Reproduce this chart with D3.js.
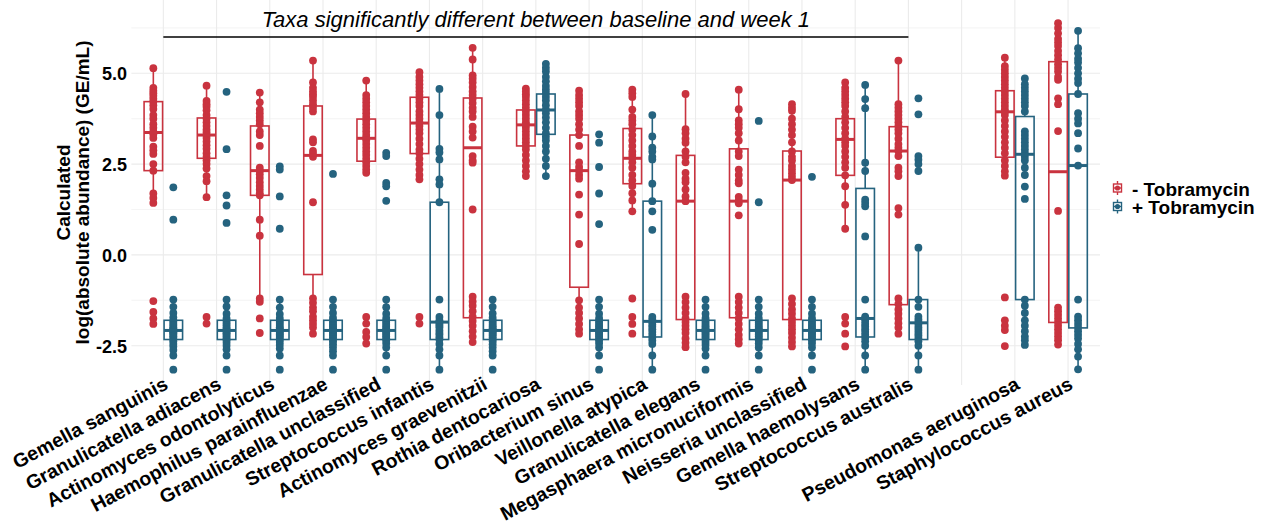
<!DOCTYPE html>
<html>
<head>
<meta charset="utf-8">
<script src="https://cdn.jsdelivr.net/npm/d3@7"></script>
<style>
  html, body { margin: 0; padding: 0; background: #ffffff; }
  svg { display: block; font-family: "Liberation Sans", Arial, sans-serif; }
</style>
</head>
<body>
<svg id="chart" width="1275" height="524"></svg>
<script>
// ---------------- data ----------------
const taxa = [
  "Gemella sanguinis", "Granulicatella adiacens", "Actinomyces odontolyticus",
  "Haemophilus parainfluenzae", "Granulicatella unclassified", "Streptococcus infantis",
  "Actinomyces graevenitzii", "Rothia dentocariosa", "Oribacterium sinus",
  "Veillonella atypica", "Granulicatella elegans", "Megasphaera micronuciformis",
  "Neisseria unclassified", "Gemella haemolysans", "Streptococcus australis",
  "Pseudomonas aeruginosa", "Staphylococcus aureus"
];
// axis slots: a blank slot separates the two groups of taxa
const axisSlots = [
  "Gemella sanguinis", "Granulicatella adiacens", "Actinomyces odontolyticus",
  "Haemophilus parainfluenzae", "Granulicatella unclassified", "Streptococcus infantis",
  "Actinomyces graevenitzii", "Rothia dentocariosa", "Oribacterium sinus",
  "Veillonella atypica", "Granulicatella elegans", "Megasphaera micronuciformis",
  "Neisseria unclassified", "Gemella haemolysans", "Streptococcus australis",
  "", "Pseudomonas aeruginosa", "Staphylococcus aureus"
];
const groups = ["- Tobramycin", "+ Tobramycin"];
const yTicks = [-2.5, 0, 2.5, 5];
const yMinorTicks = [-1.25, 1.25, 3.75, 6.25];
const bracketLabel = "Taxa significantly different between baseline and week 1";
const bracketFrom = "Gemella sanguinis";
const bracketTo = "Streptococcus australis";
const bracketLevel = 6;

// box stats per taxon: [lower whisker, Q1, median, Q3, upper whisker]
const boxMinus = [
  [1.43, 2.32, 3.37, 4.22, 5.14],
  [1.59, 2.66, 3.30, 3.77, 4.66],
  [-1.29, 1.64, 2.32, 3.55, 4.47],
  [-2.17, -0.54, 2.74, 4.10, 5.35],
  [2.26, 2.58, 3.21, 3.74, 4.80],
  [2.08, 2.79, 3.63, 4.34, 5.03],
  [-2.40, -1.73, 2.95, 4.32, 5.70],
  [2.17, 3.00, 3.58, 3.99, 4.58],
  [-2.17, -0.89, 2.32, 3.30, 4.52],
  [1.20, 1.96, 2.66, 3.48, 4.55],
  [-2.54, -1.78, 1.48, 2.74, 4.43],
  [-2.44, -1.73, 1.48, 2.92, 4.55],
  [-2.52, -1.78, 2.06, 2.86, 4.15],
  [0.72, 2.19, 3.18, 3.75, 4.75],
  [-2.17, -1.37, 2.86, 3.53, 5.35],
  [2.18, 2.69, 3.94, 4.52, 5.43],
  [-2.47, -1.86, 2.29, 5.32, 6.38]
];
const boxPlus = [
  [-2.77, -2.33, -2.08, -1.80, -1.23],
  [-2.77, -2.33, -2.08, -1.80, -1.23],
  [-2.77, -2.33, -2.08, -1.80, -1.23],
  [-2.77, -2.33, -2.08, -1.80, -1.23],
  [-2.77, -2.33, -2.08, -1.80, -1.23],
  [-3.16, -2.33, -1.85, 1.45, 4.57],
  [-2.77, -2.33, -2.08, -1.80, -1.23],
  [2.17, 3.32, 3.99, 4.43, 5.26],
  [-2.77, -2.33, -2.08, -1.80, -1.23],
  [-3.16, -2.26, -1.83, 1.48, 3.85],
  [-2.77, -2.33, -2.08, -1.80, -1.23],
  [-2.77, -2.33, -2.08, -1.80, -1.23],
  [-2.77, -2.33, -2.08, -1.80, -1.23],
  [-3.16, -2.26, -1.75, 1.83, 4.68],
  [-3.16, -2.33, -1.87, -1.23, 0.20],
  [-2.48, -1.23, 2.77, 3.81, 4.86],
  [-3.15, -2.01, 2.46, 4.43, 6.17]
];

// individual samples, log(absolute abundance)
const pointsMinus = [
  [5.14, 4.6, 4.52, 4.45, 4.38, 4.3, 4.22, 4.12, 4.02, 3.85, 3.75, 3.6, 3.5, 3.4, 3.32, 3.22, 2.98, 2.88, 2.78, 2.5, 2.32, 1.69, 1.57, 1.43, -1.27, -1.57, -1.75, -1.9],
  [4.66, 4.24, 4.15, 4.08, 3.98, 3.85, 3.75, 3.65, 3.55, 3.45, 3.38, 3.3, 3.22, 3.12, 3.02, 2.92, 2.8, 2.7, 2.6, 2.5, 2.38, 2.17, 2.03, 1.59, -1.71, -1.89],
  [4.47, 4.2, 4.0, 3.9, 3.8, 3.7, 3.6, 3.4, 3.3, 3.0, 2.4, 2.32, 2.22, 2.12, 2.0, 1.9, 1.8, 1.7, 1.64, 0.97, 0.53, -1.2, -1.29, -1.75, -2.15],
  [5.35, 4.75, 4.6, 4.5, 4.42, 4.35, 4.25, 4.15, 4.05, 3.95, 3.18, 3.1, 2.86, 2.78, 2.7, 1.45, -1.2, -1.32, -1.45, -1.55, -1.7, -1.8, -1.9, -2.0, -2.17],
  [4.8, 4.4, 4.3, 4.2, 4.1, 4.0, 3.9, 3.8, 3.7, 3.6, 3.5, 3.4, 3.3, 3.22, 3.15, 3.05, 2.95, 2.85, 2.75, 2.65, 2.55, 2.45, 2.35, 2.26, -1.71, -1.89, -2.12, -2.26, -2.44],
  [5.03, 4.9, 4.8, 4.7, 4.6, 4.5, 4.4, 4.3, 4.2, 4.1, 3.95, 3.85, 3.75, 3.65, 3.55, 3.45, 3.35, 3.2, 3.05, 2.9, 2.8, 2.65, 2.5, 2.35, 2.2, 2.08, -1.71, -1.89],
  [5.7, 5.38, 4.94, 4.85, 4.75, 4.62, 4.5, 4.4, 4.3, 4.18, 4.05, 3.95, 3.8, 3.53, 3.4, 3.23, 2.72, 2.6, 2.54, 1.25, -1.15, -1.28, -1.4, -1.55, -1.7, -1.82, -1.95, -2.1, -2.25, -2.4],
  [4.58, 4.5, 4.42, 4.35, 4.25, 4.15, 4.05, 3.95, 3.85, 3.75, 3.65, 3.58, 3.5, 3.4, 3.3, 3.2, 3.1, 3.0, 2.9, 2.75, 2.6, 2.45, 2.3, 2.17],
  [4.52, 4.4, 4.3, 4.2, 4.1, 3.95, 3.85, 3.75, 3.6, 3.45, 3.3, 3.0, 2.55, 2.42, 2.32, 2.2, 2.1, 1.66, 1.11, 0.3, -1.25, -1.45, -1.6, -1.75, -1.9, -2.05, -2.17],
  [4.55, 4.45, 4.35, 4.0, 3.8, 3.7, 3.6, 3.45, 3.3, 3.15, 3.0, 2.85, 2.75, 2.66, 2.55, 2.4, 2.2, 2.05, 1.9, 1.7, 1.5, 1.2, -1.2, -1.71, -1.9, -2.17],
  [4.43, 3.46, 3.35, 3.2, 3.09, 2.85, 2.7, 2.55, 2.26, 2.1, 2.0, 1.8, 1.61, 1.48, -1.15, -1.3, -1.45, -1.6, -1.75, -1.85, -1.95, -2.05, -2.15, -2.3, -2.42, -2.54],
  [4.55, 4.01, 3.7, 3.6, 3.5, 3.35, 3.15, 2.85, 2.72, 2.35, 2.2, 2.05, 1.97, 1.6, 1.5, 1.42, 1.09, -1.15, -1.3, -1.45, -1.6, -1.75, -1.9, -2.05, -2.2, -2.32, -2.44],
  [4.15, 4.05, 3.97, 3.75, 3.6, 3.45, 3.3, 3.1, 2.85, 2.7, 2.6, 2.45, 2.35, 2.25, 2.15, 2.06, -1.2, -1.35, -1.5, -1.62, -1.75, -1.85, -1.95, -2.05, -2.15, -2.28, -2.4, -2.52],
  [4.75, 4.6, 4.5, 4.4, 4.3, 4.2, 4.1, 3.95, 3.8, 3.65, 3.5, 3.35, 3.2, 3.1, 3.0, 2.85, 2.7, 2.55, 2.4, 2.19, 1.89, 1.38, 0.72, -1.71, -1.89, -2.17, -2.52],
  [5.35, 4.15, 4.05, 3.95, 3.85, 3.75, 3.65, 3.55, 3.45, 3.35, 3.2, 3.05, 2.95, 2.86, 2.72, 2.4, 2.3, 2.17, 1.29, 1.11, -1.2, -1.35, -1.5, -1.62, -1.75, -1.88, -2.0, -2.17],
  [5.43, 5.2, 5.1, 5.0, 4.9, 4.8, 4.7, 4.6, 4.5, 4.4, 4.3, 4.2, 4.1, 4.0, 3.94, 3.85, 3.7, 3.55, 3.4, 3.25, 3.1, 2.95, 2.8, 2.6, 2.45, 2.3, 2.18, -1.17, -1.8, -1.95, -2.07, -2.51],
  [6.38, 6.25, 6.1, 5.95, 5.85, 5.75, 5.62, 5.5, 5.38, 5.25, 5.15, 5.05, 4.9, 4.82, 4.31, 4.15, 3.41, 1.21, -1.45, -1.55, -1.65, -1.75, -1.85, -1.95, -2.05, -2.15, -2.25, -2.35, -2.47]
];
const pointsPlus = [
  [1.86, 0.97, -1.23, -1.43, -1.6, -1.72, -1.8, -1.85, -1.9, -1.95, -2.0, -2.03, -2.06, -2.08, -2.1, -2.13, -2.16, -2.2, -2.24, -2.28, -2.33, -2.38, -2.45, -2.52, -2.62, -2.77, -3.16],
  [4.49, 2.91, 1.64, 1.36, 0.88, -1.23, -1.42, -1.62, -1.75, -1.82, -1.88, -1.94, -2.0, -2.04, -2.08, -2.12, -2.16, -2.2, -2.25, -2.3, -2.35, -2.42, -2.5, -2.6, -2.77, -3.16],
  [2.44, 2.35, 1.61, 0.72, -1.23, -1.45, -1.63, -1.74, -1.81, -1.87, -1.93, -1.99, -2.03, -2.07, -2.11, -2.15, -2.19, -2.23, -2.28, -2.33, -2.4, -2.48, -2.58, -2.77, -3.16],
  [2.23, -1.23, -1.43, -1.6, -1.73, -1.8, -1.86, -1.92, -1.97, -2.02, -2.06, -2.1, -2.14, -2.18, -2.22, -2.27, -2.32, -2.38, -2.46, -2.55, -2.65, -2.77, -3.16],
  [2.81, 2.72, 1.98, 1.89, 1.49, -1.23, -1.44, -1.62, -1.74, -1.81, -1.87, -1.93, -1.98, -2.03, -2.07, -2.11, -2.15, -2.2, -2.25, -2.3, -2.36, -2.44, -2.55, -2.77, -3.16],
  [4.57, 3.85, 2.92, 2.82, 2.63, 2.08, 1.94, 1.45, -1.23, -1.71, -1.8, -1.85, -1.9, -1.95, -2.0, -2.08, -2.15, -2.2, -2.27, -2.33, -2.45, -2.6, -2.77, -3.16],
  [-1.23, -1.43, -1.61, -1.73, -1.8, -1.86, -1.92, -1.97, -2.02, -2.06, -2.1, -2.14, -2.18, -2.22, -2.27, -2.32, -2.38, -2.46, -2.55, -2.65, -2.77, -3.16],
  [5.26, 5.15, 5.05, 4.9, 4.78, 4.65, 4.55, 4.45, 4.35, 4.25, 4.12, 4.0, 3.9, 3.78, 3.65, 3.5, 3.35, 3.25, 3.15, 3.0, 2.85, 2.65, 2.45, 2.17],
  [3.32, 3.09, 2.42, 1.69, 0.85, -1.23, -1.43, -1.62, -1.74, -1.81, -1.87, -1.93, -1.98, -2.03, -2.07, -2.11, -2.15, -2.2, -2.25, -2.3, -2.36, -2.44, -2.55, -2.77, -3.16],
  [3.85, 3.26, 2.95, 2.85, 2.7, 2.63, 1.96, 1.48, 1.2, 0.69, -1.71, -1.78, -1.85, -1.92, -1.98, -2.05, -2.12, -2.2, -2.28, -2.36, -2.45, -2.77, -3.16],
  [-1.23, -1.43, -1.62, -1.74, -1.8, -1.86, -1.92, -1.97, -2.02, -2.06, -2.1, -2.14, -2.18, -2.23, -2.28, -2.33, -2.4, -2.48, -2.58, -2.77, -3.16],
  [3.69, 1.45, -1.23, -1.43, -1.62, -1.74, -1.81, -1.87, -1.93, -1.98, -2.03, -2.07, -2.11, -2.15, -2.2, -2.25, -2.3, -2.36, -2.44, -2.55, -2.77, -3.16],
  [2.15, -1.23, -1.43, -1.62, -1.74, -1.81, -1.87, -1.93, -1.98, -2.03, -2.07, -2.11, -2.15, -2.2, -2.25, -2.3, -2.36, -2.44, -2.55, -2.77, -3.16],
  [4.68, 4.29, 4.04, 2.54, 2.31, 1.52, 1.43, 1.34, 0.51, -1.23, -1.7, -1.75, -1.82, -1.9, -1.97, -2.05, -2.12, -2.2, -2.28, -2.38, -2.5, -2.77, -3.16],
  [4.31, 3.87, 2.72, 2.62, 2.5, 2.31, 0.2, -1.23, -1.43, -1.7, -1.78, -1.85, -1.92, -2.0, -2.07, -2.15, -2.22, -2.3, -2.38, -2.5, -2.77, -3.16],
  [4.86, 4.7, 4.6, 4.5, 4.4, 4.3, 4.2, 4.1, 3.95, 3.4, 3.3, 3.2, 3.1, 3.0, 2.9, 2.8, 2.7, 2.6, 2.4, 2.2, 1.88, 1.54, -1.23, -1.4, -1.6, -1.8, -1.95, -2.1, -2.25, -2.35, -2.48],
  [6.17, 5.69, 5.55, 5.4, 5.3, 5.15, 5.0, 4.85, 4.73, 4.43, 3.9, 3.75, 3.62, 3.35, 2.93, 2.46, -1.23, -1.7, -1.8, -1.9, -2.0, -2.1, -2.2, -2.3, -2.45, -2.6, -2.8, -3.15]
];

const colors = ["#C9333F", "#25637F"];

// ---------------- layout ----------------
const svg = d3.select("#chart");
const panel = { left: 131.4, right: 1100, top: 0, bottom: 385 };
const font = '"Liberation Sans", Arial, sans-serif';

const x = d3.scalePoint().domain(axisSlots).range([panel.left, panel.right]).padding(0.6);
const y = d3.scaleLinear().domain([-3.582, 7.018]).range([panel.bottom, panel.top]);
const dodge = d3.scalePoint().domain(groups).range([-10, 10]);
const boxW = 18.5;

// grid
const grid = svg.append("g");
grid.selectAll("line.minor").data(yMinorTicks).join("line")
  .attr("x1", panel.left).attr("x2", panel.right)
  .attr("y1", d => y(d)).attr("y2", d => y(d))
  .attr("stroke", "#EFEFEF").attr("stroke-width", 0.7);
grid.selectAll("line.majY").data(yTicks).join("line")
  .attr("x1", panel.left).attr("x2", panel.right)
  .attr("y1", d => y(d)).attr("y2", d => y(d))
  .attr("stroke", "#EBEBEB").attr("stroke-width", 1.1);
grid.selectAll("line.majX").data(axisSlots).join("line")
  .attr("x1", d => x(d)).attr("x2", d => x(d))
  .attr("y1", panel.top).attr("y2", panel.bottom)
  .attr("stroke", "#EBEBEB").attr("stroke-width", 1.1);

// y axis labels (ASCII hyphen for negatives, as in the original)
const fmt = d3.formatLocale({ decimal: ".", thousands: ",", grouping: [3], currency: ["", ""], minus: "-" }).format(".1f");
const yAxis = d3.axisLeft(y).tickValues(yTicks).tickFormat(fmt).tickSize(0).tickPadding(0);
const yg = svg.append("g").attr("transform", "translate(127,0)").call(yAxis);
yg.select(".domain").remove();
yg.selectAll("text").attr("font-family", font).attr("font-size", 18).attr("font-weight", "bold")
  .attr("fill", "#000").attr("dy", "0.35em");

// y title
const yt = svg.append("text").attr("transform", `translate(70,${(panel.top + panel.bottom) / 2}) rotate(-90)`)
  .attr("text-anchor", "middle").attr("font-family", font).attr("font-size", 19).attr("font-weight", "bold");
yt.append("tspan").attr("x", 0).attr("y", 0).text("Calculated");
yt.append("tspan").attr("x", 0).attr("y", 19).text("log(absolute abundance) (GE/mL)");

// x axis labels
const xAxis = d3.axisBottom(x).tickSize(0).tickPadding(0).tickFormat(d => d);
const xg = svg.append("g").attr("transform", "translate(0,376)").call(xAxis);
xg.select(".domain").remove();
xg.selectAll("text").attr("font-family", font).attr("font-size", 19.5).attr("font-weight", "bold")
  .attr("fill", "#000").attr("text-anchor", "end").attr("dy", "0.71em").attr("y", 0)
  .attr("transform", "translate(-1,0) rotate(-28)");

// points + boxes
const marks = svg.append("g");
taxa.forEach((t, i) => {
  [pointsMinus[i], pointsPlus[i]].forEach((pts, g) => {
    const cx = x(t) + dodge(groups[g]);
    marks.append("g").selectAll("circle").data(pts).join("circle")
      .attr("cx", cx).attr("cy", d => y(d)).attr("r", 3.9).attr("fill", colors[g]);
  });
});
taxa.forEach((t, i) => {
  [boxMinus[i], boxPlus[i]].forEach((b, g) => {
    const cx = x(t) + dodge(groups[g]);
    const [lo, q1, med, q3, hi] = b;
    const gb = marks.append("g").attr("stroke", colors[g]).attr("fill", "none");
    gb.append("line").attr("x1", cx).attr("x2", cx).attr("y1", y(q3)).attr("y2", y(hi)).attr("stroke-width", 1.6);
    gb.append("line").attr("x1", cx).attr("x2", cx).attr("y1", y(q1)).attr("y2", y(lo)).attr("stroke-width", 1.6);
    gb.append("rect").attr("x", cx - boxW / 2).attr("width", boxW)
      .attr("y", y(q3)).attr("height", y(q1) - y(q3)).attr("stroke-width", 1.6);
    gb.append("line").attr("x1", cx - boxW / 2).attr("x2", cx + boxW / 2)
      .attr("y1", y(med)).attr("y2", y(med)).attr("stroke-width", 3);
  });
});

// bracket annotation
svg.append("line").attr("x1", x(bracketFrom)).attr("x2", x(bracketTo))
  .attr("y1", y(bracketLevel)).attr("y2", y(bracketLevel))
  .attr("stroke", "#000").attr("stroke-width", 1.4);
svg.append("text").attr("x", (x(bracketFrom) + x(bracketTo)) / 2).attr("y", y(bracketLevel) - 10)
  .attr("text-anchor", "middle").attr("font-family", font).attr("font-size", 22)
  .attr("font-style", "italic").text(bracketLabel);

// legend
const lg = svg.append("g").attr("transform", "translate(1113,181)");
groups.forEach((gname, g) => {
  const row = lg.append("g").attr("transform", `translate(0,${g * 18.5})`);
  row.append("line").attr("x1", 4.5).attr("x2", 4.5).attr("y1", 0).attr("y2", 14)
    .attr("stroke", colors[g]).attr("stroke-width", 1.4);
  row.append("rect").attr("x", 0.5).attr("y", 3).attr("width", 8).attr("height", 8)
    .attr("fill", "#fff").attr("stroke", colors[g]).attr("stroke-width", 1.4);
  row.append("circle").attr("cx", 4.5).attr("cy", 7).attr("r", 2.6).attr("fill", colors[g]);
  row.append("line").attr("x1", 0.5).attr("x2", 8.5).attr("y1", 7).attr("y2", 7)
    .attr("stroke", colors[g]).attr("stroke-width", 1.4);
  row.append("text").attr("x", 19).attr("y", 14.5).attr("font-family", font)
    .attr("font-size", 19).attr("font-weight", "bold").text(gname);
});
</script>
</body>
</html>
